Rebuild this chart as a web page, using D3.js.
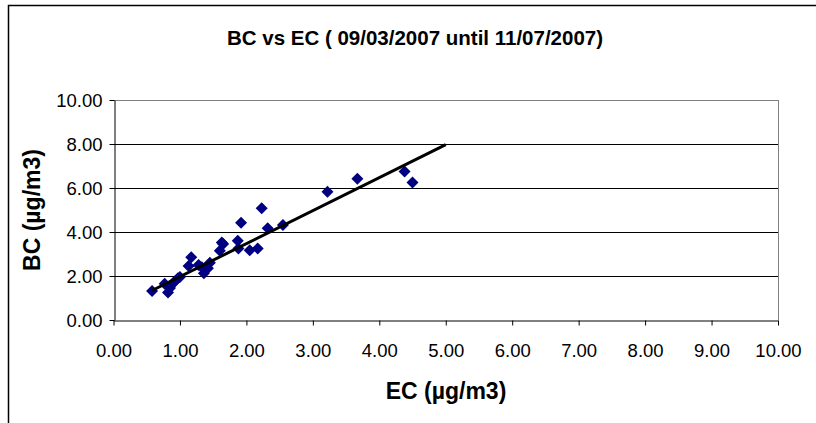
<!DOCTYPE html>
<html><head><meta charset="utf-8">
<script src="https://cdn.jsdelivr.net/npm/d3@7"></script>
<style>body{margin:0;background:#fff}svg{display:block}</style>
</head><body>
<script>
const ecValues = [0.58,0.77,0.82,0.85,0.88,0.92,0.97,1.00,1.13,1.17,1.28,1.33,1.36,1.42,1.45,1.60,1.63,1.65,1.87,1.88,1.92,2.05,2.17,2.23,2.32,2.55,3.22,3.67,4.38,4.50];
const bcValues = [1.32,1.65,1.25,1.45,1.62,1.75,1.90,1.95,2.45,2.85,2.50,2.40,2.12,2.35,2.60,3.15,3.52,3.45,3.60,3.25,4.42,3.17,3.25,5.08,4.17,4.32,5.83,6.42,6.75,6.25];
const xTicks = [0,1,2,3,4,5,6,7,8,9,10];
const yTicks = [0,2,4,6,8,10];
const trendSlope = 1.50, trendIntercept = 0.47, trendRange = [0.58, 5.0];
const titleText = "BC vs EC ( 09/03/2007 until 11/07/2007)";
const xTitle = "EC (µg/m3)", yTitle = "BC (µg/m3)";

const W = 816, H = 423;
const svg = d3.select("body").append("svg").attr("width", W).attr("height", H);
svg.append("rect").attr("x", 8.5).attr("y", 5.5).attr("width", W).attr("height", H).attr("fill", "#fff").attr("stroke", "#000").attr("stroke-width", 1.5);

const x = d3.scaleLinear().domain([0, 10]).range([113.5, 778]);
const y = d3.scaleLinear().domain([0, 10]).range([320, 100]);
const font = "Liberation Sans, Arial, sans-serif";

// gridlines
svg.append("g").selectAll("line").data(yTicks.filter(d => d > 0)).join("line")
  .attr("x1", x(0)).attr("x2", x(10)).attr("y1", d => Math.round(y(d)) + 0.5).attr("y2", d => Math.round(y(d)) + 0.5)
  .attr("stroke", d => d === 10 ? "#808080" : "#000").attr("stroke-width", 1);
svg.append("line").attr("x1", Math.round(x(10)) + 0.5).attr("x2", Math.round(x(10)) + 0.5).attr("y1", y(10)).attr("y2", y(0)).attr("stroke", "#808080");

// axes
const xAxis = svg.append("g").attr("transform", `translate(0,${Math.round(y(0)) + 0.5})`)
  .call(d3.axisBottom(x).tickValues(xTicks).tickFormat(d3.format(".2f")).tickSize(5).tickSizeOuter(0));
const yAxis = svg.append("g").attr("transform", `translate(${Math.round(x(0)) + 0.5},0)`)
  .call(d3.axisLeft(y).tickValues(yTicks).tickFormat(d3.format(".2f")).tickSize(5).tickSizeOuter(0));
[xAxis, yAxis].forEach(g => {
  g.select(".domain").attr("stroke", "#000");
  g.selectAll(".tick line").attr("stroke", "#000");
  g.selectAll("text").attr("font-family", font).attr("font-size", 18.5).attr("fill", "#000");
});
xAxis.selectAll("text").attr("y", 36).attr("dy", 0);
yAxis.selectAll("text").attr("x", -12).attr("dy", "0.36em");

// points
const pts = ecValues.map((e, i) => [e, bcValues[i]]);
svg.append("g").selectAll("path").data(pts).join("path")
  .attr("d", "M0,-6L6,0L0,6L-6,0Z")
  .attr("transform", d => `translate(${x(d[0])},${y(d[1])})`)
  .attr("fill", "#000080");

// trendline
svg.append("line")
  .attr("x1", x(trendRange[0])).attr("y1", y(trendSlope * trendRange[0] + trendIntercept))
  .attr("x2", x(trendRange[1])).attr("y2", y(trendSlope * trendRange[1] + trendIntercept))
  .attr("stroke", "#000").attr("stroke-width", 3);

// titles
svg.append("text").attr("x", 415).attr("y", 45).attr("text-anchor", "middle")
  .attr("font-family", font).attr("font-weight", "bold").attr("font-size", 20.5).text(titleText);
svg.append("text").attr("x", 446).attr("y", 399).attr("text-anchor", "middle")
  .attr("font-family", font).attr("font-weight", "bold").attr("font-size", 23).text(xTitle);
svg.append("text").attr("transform", "translate(40,210) rotate(-90)").attr("text-anchor", "middle")
  .attr("font-family", font).attr("font-weight", "bold").attr("font-size", 23).text(yTitle);
</script>
</body></html>
